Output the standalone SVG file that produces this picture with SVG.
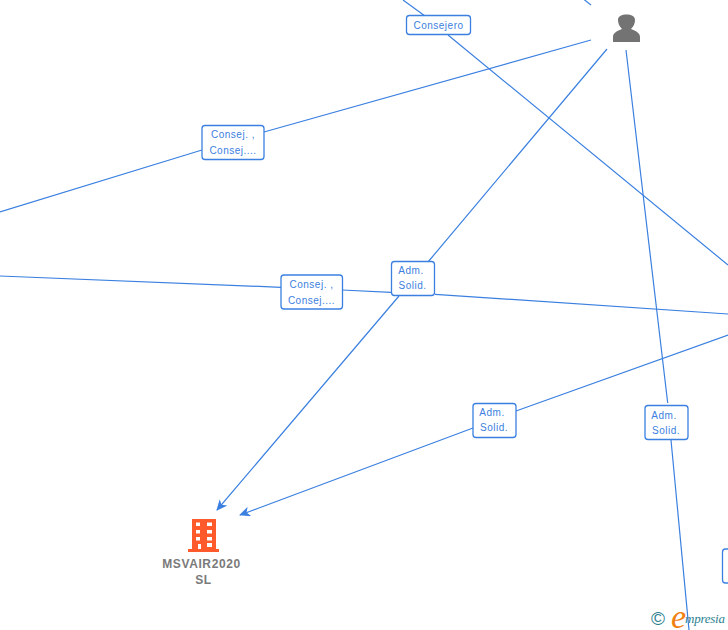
<svg xmlns="http://www.w3.org/2000/svg" width="728" height="630" viewBox="0 0 728 630">
<style>
.c{fill:none;stroke:#3b80e0;stroke-width:1.2}
.b{fill:#fff;stroke:#3b80e0;stroke-width:1.300}
.l{font:10px "Liberation Sans",Arial,sans-serif;fill:#3b80e0;text-anchor:middle;letter-spacing:.5px}
.n{font:bold 12px "Liberation Sans",Arial,sans-serif;fill:#7a7a7a;text-anchor:middle;letter-spacing:.6px}
</style>
<defs><marker id="a" markerWidth="12" markerHeight="10" refX="10" refY="5" orient="auto" markerUnits="userSpaceOnUse"><path d="M0 0L11 5L0 10L3 5Z" fill="#3b80e0"/></marker></defs>
<rect width="728" height="630" fill="#fff"/>
<g id="connectors">
<path class="c" d="M403 0L425 16M448 35L728 265"/>
<path class="c" d="M577 -6L591 5"/>
<path class="c" d="M591 40L264 132M202 150L0 212"/>
<path class="c" d="M607 49L428 262M399 296L217 510" marker-end="url(#a)"/>
<path class="c" d="M626 50L667.700 403M671 440L689 630"/>
<path class="c" d="M0 276L281 287.300M342 290L391 292.300M435 294.300L728 314"/>
<path class="c" d="M728 335L516 411M473 428L240 515" marker-end="url(#a)"/>
</g>
<g id="edge-consejero"><rect class="b" x="406.500" y="15.500" width="64" height="19" rx="3"/><text class="l" x="438.500" y="29">Consejero</text></g>
<g id="edge-consej-1"><rect class="b" x="202" y="125.500" width="62" height="34" rx="3"/><text class="l" x="233" y="138">Consej. ,</text><text class="l" x="233" y="153.500">Consej....</text></g>
<g id="edge-consej-2"><rect class="b" x="281" y="275" width="61.500" height="34" rx="3"/><text class="l" x="311.500" y="288">Consej. ,</text><text class="l" x="311.500" y="303.500">Consej....</text></g>
<g id="edge-adm-1"><rect class="b" x="391.500" y="261.500" width="43" height="34" rx="3"/><text class="l" x="411" y="274">Adm.</text><text class="l" x="412.500" y="289">Solid.</text></g>
<g id="edge-adm-2"><rect class="b" x="473" y="403.500" width="43" height="34" rx="3"/><text class="l" x="492" y="416">Adm.</text><text class="l" x="494" y="431">Solid.</text></g>
<g id="edge-adm-3"><rect class="b" x="645" y="405.500" width="43" height="34" rx="3"/><text class="l" x="664" y="419">Adm.</text><text class="l" x="666" y="434">Solid.</text></g>
<rect id="edge-cut" class="b" x="722.500" y="549" width="14" height="34" rx="3"/>
<g id="person"><path fill="#737373" d="M613 42V37C613 33 617 31 622 29C619 26 618 23 618 20C618 16 622 14.500 626.500 14.500C631 14.500 635 16 635 20C635 23 634 26 631 29C636 31 640 33 640 37V42Z"/></g>
<g id="msvair2020"><path fill="#ff5a2b" fill-rule="evenodd" d="M192 519H216V549H219V552H188V549H192ZM196 522.500V526H200V522.500ZM207 522.500V526H212V522.500ZM196 530V533.500H200V530ZM207 530V533.500H212V530ZM196 537V540.500H200V537ZM207 537V540.500H212V537ZM198 544V549H201V544ZM207 543V547H212V543Z"/><text class="n" x="201.500" y="568">MSVAIR2020</text><text class="n" x="203.500" y="584">SL</text></g>
<g id="watermark"><text x="658" y="625" font-family="'Liberation Sans',sans-serif" font-size="19" fill="#2d7f8f" text-anchor="middle">©</text><text x="671" y="628" font-family="'Liberation Serif',serif" font-style="italic" font-size="34" fill="#f08010">e</text><text x="685" y="623" font-family="'Liberation Serif',serif" font-style="italic" font-size="13" fill="#2d7f8f" textLength="40" lengthAdjust="spacing">mpresia</text></g>
</svg>
